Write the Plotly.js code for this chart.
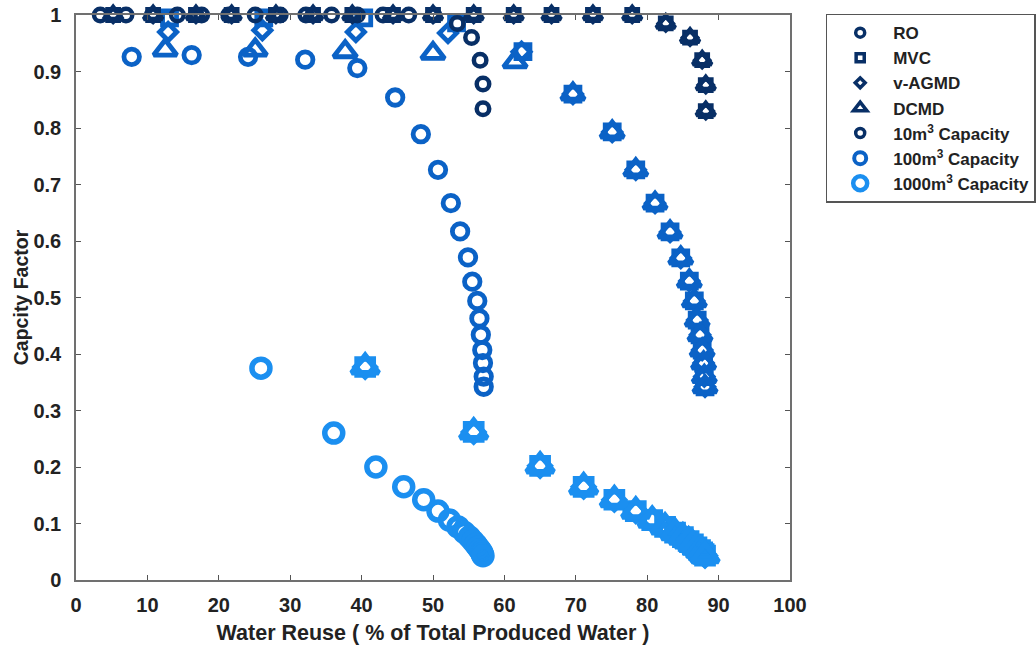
<!DOCTYPE html>
<html>
<head>
<meta charset="utf-8">
<script src="https://cdn.plot.ly/plotly-3.0.1.min.js"></script>
<style>html,body{margin:0;padding:0;background:#fff;}#chart{width:1036px;height:647px;}</style>
</head>
<body>
<div id="chart"></div>
<script>
// ---- data ----
// 10 m3 capacity
const ro10X = [3.4, 7.0, 10.7, 14.2, 17.6, 21.4, 25.1, 28.6, 32.2, 35.8, 39.4, 43.0, 46.6, 50.1, 53.4, 55.4, 56.6, 57.0, 57.0];
const ro10Y = [1, 1, 1, 1, 1, 1, 1, 1, 1, 1, 1, 1, 1, 1, 0.985, 0.96, 0.92, 0.878, 0.834];
const mvc10X = [5.2, 10.8, 16.8, 21.8, 28.0, 33.2, 38.7, 44.4, 50.0, 55.7, 61.3, 66.6, 72.4, 77.9, 82.6, 86.0, 87.7, 88.2, 88.2];
const mvc10Y = [1, 1, 1, 1, 1, 1, 1, 1, 1, 1, 1, 1, 1, 1, 0.985, 0.96, 0.92, 0.876, 0.83];
const agmd10X = [5.2, 10.8, 16.8, 21.8, 28.0, 33.2, 38.7, 44.4, 50.0, 55.7, 61.3, 66.6, 72.4, 77.9, 82.6, 86.0, 87.7, 88.2, 88.2];
const agmd10Y = [1, 1, 1, 1, 1, 1, 1, 1, 1, 1, 1, 1, 1, 1, 0.985, 0.96, 0.92, 0.876, 0.83];
const dcmd10X = [5.2, 10.8, 16.8, 21.8, 28.0, 33.2, 38.7, 44.4, 50.0, 55.7, 61.3, 66.6, 72.4, 77.9, 82.6, 86.0, 87.7, 88.2, 88.2];
const dcmd10Y = [1, 1, 1, 1, 1, 1, 1, 1, 1, 1, 1, 1, 1, 1, 0.985, 0.96, 0.92, 0.876, 0.83];

// 100 m3 capacity
const ro100X = [7.8, 16.2, 24.1, 32.1, 39.4, 44.7, 48.3, 50.7, 52.5, 53.8, 54.9, 55.5, 56.2, 56.5, 56.7, 56.9, 57.0, 57.1, 57.1];
const ro100Y = [0.926, 0.929, 0.926, 0.921, 0.906, 0.854, 0.789, 0.726, 0.667, 0.617, 0.571, 0.528, 0.494, 0.463, 0.434, 0.407, 0.384, 0.360, 0.342];
const mvc100X = [13.1, 26.3, 40.3, 53.3, 62.6, 69.6, 75.1, 78.4, 81.1, 83.2, 84.7, 85.9, 86.6, 87.0, 87.4, 87.7, 87.9, 88.0, 88.1];
const mvc100Y = [0.995, 0.995, 0.995, 0.986, 0.935, 0.86, 0.793, 0.726, 0.667, 0.616, 0.570, 0.529, 0.494, 0.46, 0.434, 0.407, 0.384, 0.36, 0.342];
const agmd100X = [12.9, 26.1, 39.2, 52.1, 62.4, 69.6, 75.1, 78.4, 81.1, 83.2, 84.7, 85.9, 86.6, 87.0, 87.4, 87.7, 87.9, 88.0, 88.1];
const agmd100Y = [0.97, 0.973, 0.97, 0.968, 0.935, 0.86, 0.793, 0.726, 0.667, 0.616, 0.570, 0.529, 0.494, 0.46, 0.434, 0.407, 0.384, 0.36, 0.342];
const dcmd100X = [12.5, 25.1, 37.7, 50.0, 61.5, 69.6, 75.1, 78.4, 81.1, 83.2, 84.7, 85.9, 86.6, 87.0, 87.4, 87.7, 87.9, 88.0, 88.1];
const dcmd100Y = [0.938, 0.938, 0.935, 0.932, 0.917, 0.86, 0.793, 0.726, 0.667, 0.616, 0.570, 0.529, 0.494, 0.46, 0.434, 0.407, 0.384, 0.36, 0.342];

// 1000 m3 capacity
const ro1000X = [25.9, 36.1, 42.0, 45.9, 48.7, 50.7, 52.3, 53.5, 54.4, 55.1, 55.6, 56.0, 56.3, 56.6, 56.8, 56.9, 57.0];
const ro1000Y = [0.375, 0.26, 0.2, 0.165, 0.142, 0.122, 0.106, 0.094, 0.084, 0.076, 0.069, 0.063, 0.058, 0.053, 0.049, 0.046, 0.043];
const mvc1000X = [40.5, 55.7, 65.0, 71.1, 75.4, 78.4, 80.7, 82.5, 83.9, 85.0, 85.8, 86.4, 86.9, 87.4, 87.7, 87.9, 88.1];
const mvc1000Y = [0.377, 0.262, 0.202, 0.165, 0.142, 0.122, 0.106, 0.094, 0.084, 0.076, 0.069, 0.063, 0.058, 0.053, 0.049, 0.046, 0.043];
const agmd1000X = [40.5, 55.7, 65.0, 71.1, 75.4, 78.4, 80.7, 82.5, 83.9, 85.0, 85.8, 86.4, 86.9, 87.4, 87.7, 87.9, 88.1];
const agmd1000Y = [0.377, 0.262, 0.202, 0.165, 0.142, 0.122, 0.106, 0.094, 0.084, 0.076, 0.069, 0.063, 0.058, 0.053, 0.049, 0.046, 0.043];
const dcmd1000X = [40.5, 55.7, 65.0, 71.1, 75.4, 78.4, 80.7, 82.5, 83.9, 85.0, 85.8, 86.4, 86.9, 87.4, 87.7, 87.9, 88.1];
const dcmd1000Y = [0.377, 0.262, 0.202, 0.165, 0.142, 0.122, 0.106, 0.094, 0.084, 0.076, 0.069, 0.063, 0.058, 0.053, 0.049, 0.046, 0.043];

const techNames = ["RO", "MVC", "v-AGMD", "DCMD"];
const capNames = ["10m<sup>3</sup> Capacity", "100m<sup>3</sup> Capacity", "1000m<sup>3</sup> Capacity"];

// ---- styles ----
const colors = {c10: "#082f66", c100: "#0b62c6", c1000: "#1b8ff0"};
const symbols = {RO: "circle-open", MVC: "square-open", "v-AGMD": "diamond-open", DCMD: "triangle-up-open"};
const symScale = {RO: 1.0, MVC: 0.9, "v-AGMD": 0.85, DCMD: 1.3};
const capStyle = {
  c10: {size: 12.5, lw: 4.5},
  c100: {size: 15.5, lw: 4.8},
  c1000: {size: 18, lw: 5.5}
};

const series = [
  {cap: "c1000", tech: "RO", x: ro1000X, y: ro1000Y},
  {cap: "c1000", tech: "MVC", x: mvc1000X, y: mvc1000Y},
  {cap: "c1000", tech: "v-AGMD", x: agmd1000X, y: agmd1000Y},
  {cap: "c1000", tech: "DCMD", x: dcmd1000X, y: dcmd1000Y},
  {cap: "c100", tech: "RO", x: ro100X, y: ro100Y},
  {cap: "c100", tech: "MVC", x: mvc100X, y: mvc100Y},
  {cap: "c100", tech: "v-AGMD", x: agmd100X, y: agmd100Y},
  {cap: "c100", tech: "DCMD", x: dcmd100X, y: dcmd100Y},
  {cap: "c10", tech: "RO", x: ro10X, y: ro10Y},
  {cap: "c10", tech: "MVC", x: mvc10X, y: mvc10Y},
  {cap: "c10", tech: "v-AGMD", x: agmd10X, y: agmd10Y},
  {cap: "c10", tech: "DCMD", x: dcmd10X, y: dcmd10Y}
];

const traces = series.map(s => ({
  type: "scatter", mode: "markers", x: s.x, y: s.y,
  showlegend: false, cliponaxis: false, hoverinfo: "x+y",
  marker: {
    symbol: symbols[s.tech], color: colors[s.cap],
    size: capStyle[s.cap].size * symScale[s.tech],
    line: {width: capStyle[s.cap].lw, color: colors[s.cap]}
  }
}));

// legend entries
techNames.forEach(t => traces.push({
  type: "scatter", mode: "markers", x: [null], y: [null], name: t, showlegend: true,
  marker: {symbol: symbols[t], color: colors.c10, size: 9 * symScale[t], line: {width: 3.5, color: colors.c10}}
}));
["c10", "c100", "c1000"].forEach((c, i) => traces.push({
  type: "scatter", mode: "markers", x: [null], y: [null], name: capNames[i], showlegend: true,
  marker: {symbol: "circle-open", color: colors[c], size: [9, 12, 14][i], line: {width: [3.5, 4, 4.5][i], color: colors[c]}}
}));

const font = {family: "Liberation Sans, Arial, sans-serif", color: "#222", weight: "bold"};
const axisCommon = {
  showline: true, linecolor: "#707070", linewidth: 1.5, mirror: "ticks",
  ticks: "inside", ticklen: 5, tickcolor: "#555", tickwidth: 1.2,
  showgrid: false, zeroline: false,
  tickfont: Object.assign({}, font, {size: 20})
};

const layout = {
  width: 1036, height: 647,
  margin: {l: 76, r: 246, t: 15, b: 67},
  paper_bgcolor: "#fff", plot_bgcolor: "#fff",
  xaxis: Object.assign({}, axisCommon, {
    range: [0, 100], dtick: 10, tick0: 0, ticklabelstandoff: 6,
    title: {text: "Water Reuse ( % of Total Produced Water )", font: Object.assign({}, font, {size: 21.5}), standoff: 10}
  }),
  yaxis: Object.assign({}, axisCommon, {
    range: [0, 1], dtick: 0.1, tick0: 0, ticklabelstandoff: 9,
    title: {text: "Capcity Factor", font: Object.assign({}, font, {size: 19.5}), standoff: 0}
  }),
  showlegend: true,
  legend: {
    xref: "container", yref: "container",
    x: 0.797, y: 0.979, xanchor: "left", yanchor: "top",
    bordercolor: "#555", borderwidth: 1.5, bgcolor: "#fff",
    font: Object.assign({}, font, {size: 17}),
    itemsizing: "trace", itemwidth: 56, tracegroupgap: 0
  }
};

Plotly.newPlot("chart", traces, layout, {displayModeBar: false, responsive: false});
</script>
</body>
</html>
